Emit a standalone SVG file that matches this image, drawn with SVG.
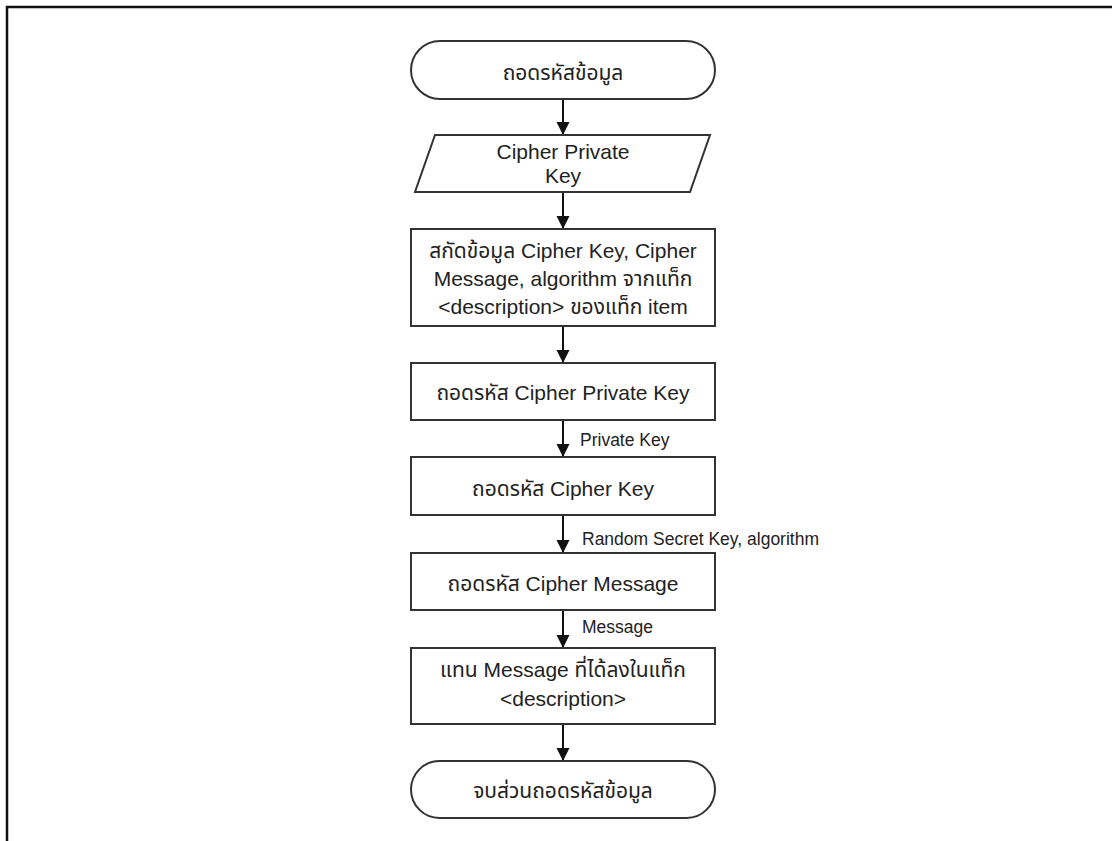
<svg xmlns="http://www.w3.org/2000/svg" width="1112" height="841" viewBox="0 0 1112 841">
  <style>
    .shape { fill: #ffffff; stroke: #333333; stroke-width: 2; }
    .txt { font-family: "Liberation Sans", "Noto Sans Thai", Tahoma, "Noto Sans", sans-serif; font-size: 21px; fill: #222222; text-anchor: middle; }
    .lbl { font-family: "Liberation Sans", "Noto Sans", sans-serif; font-size: 17.5px; fill: #222222; }
    .flow { stroke: #111111; stroke-width: 2; fill: none; marker-end: url(#arrow); }
  </style>
  <defs>
    <marker id="arrow" markerUnits="userSpaceOnUse" markerWidth="14" markerHeight="14" viewBox="0 0 14 14" refX="13" refY="7" orient="auto">
      <path d="M0,0.5 L13,7 L0,13.5 Z" fill="#111111"/>
    </marker>
  </defs>

  <rect width="1112" height="841" fill="#ffffff"/>
  <!-- page frame -->
  <path d="M7,841 V7 H1112" fill="none" stroke="#111111" stroke-width="2.5"/>

  <g id="connectors">
    <line class="flow" x1="563" y1="99" x2="563" y2="135"/>
    <line class="flow" x1="563" y1="192" x2="563" y2="229"/>
    <line class="flow" x1="563" y1="326" x2="563" y2="363"/>
    <line class="flow" x1="563" y1="420" x2="563" y2="457"/>
    <text class="lbl" x="580" y="446">Private Key</text>
    <line class="flow" x1="563" y1="515" x2="563" y2="553"/>
    <text class="lbl" x="582" y="545">Random Secret Key, algorithm</text>
    <line class="flow" x1="563" y1="610" x2="563" y2="648"/>
    <text class="lbl" x="582" y="633">Message</text>
    <line class="flow" x1="563" y1="724" x2="563" y2="761"/>
  </g>

  <g id="start">
    <rect class="shape" x="411" y="41" width="304" height="58" rx="29" ry="29"/>
    <text class="txt" x="563" y="80">ถอดรหัสข้อมูล</text>
  </g>

  <g id="input-key">
    <polygon class="shape" points="435,135 710,135 690,192 415,192"/>
    <text class="txt" x="563" y="159">Cipher Private</text>
    <text class="txt" x="563" y="183">Key</text>
  </g>

  <g id="extract">
    <rect class="shape" x="411" y="229" width="304" height="97"/>
    <text class="txt" x="563" y="258">สกัดข้อมูล Cipher Key, Cipher</text>
    <text class="txt" x="563" y="286">Message, algorithm จากแท็ก</text>
    <text class="txt" x="563" y="314">&lt;description&gt; ของแท็ก item</text>
  </g>

  <g id="decrypt-private-key">
    <rect class="shape" x="411" y="363" width="304" height="57"/>
    <text class="txt" x="563" y="400">ถอดรหัส Cipher Private Key</text>
  </g>

  <g id="decrypt-key">
    <rect class="shape" x="411" y="457" width="304" height="58"/>
    <text class="txt" x="563" y="496">ถอดรหัส Cipher Key</text>
  </g>

  <g id="decrypt-message">
    <rect class="shape" x="411" y="553" width="304" height="57"/>
    <text class="txt" x="563" y="591">ถอดรหัส Cipher Message</text>
  </g>

  <g id="replace-message">
    <rect class="shape" x="411" y="648" width="304" height="76"/>
    <text class="txt" x="563" y="677">แทน Message ที่ได้ลงในแท็ก</text>
    <text class="txt" x="563" y="706">&lt;description&gt;</text>
  </g>

  <g id="end">
    <rect class="shape" x="411" y="761" width="304" height="57" rx="28.5" ry="28.5"/>
    <text class="txt" x="563" y="798">จบส่วนถอดรหัสข้อมูล</text>
  </g>
</svg>
